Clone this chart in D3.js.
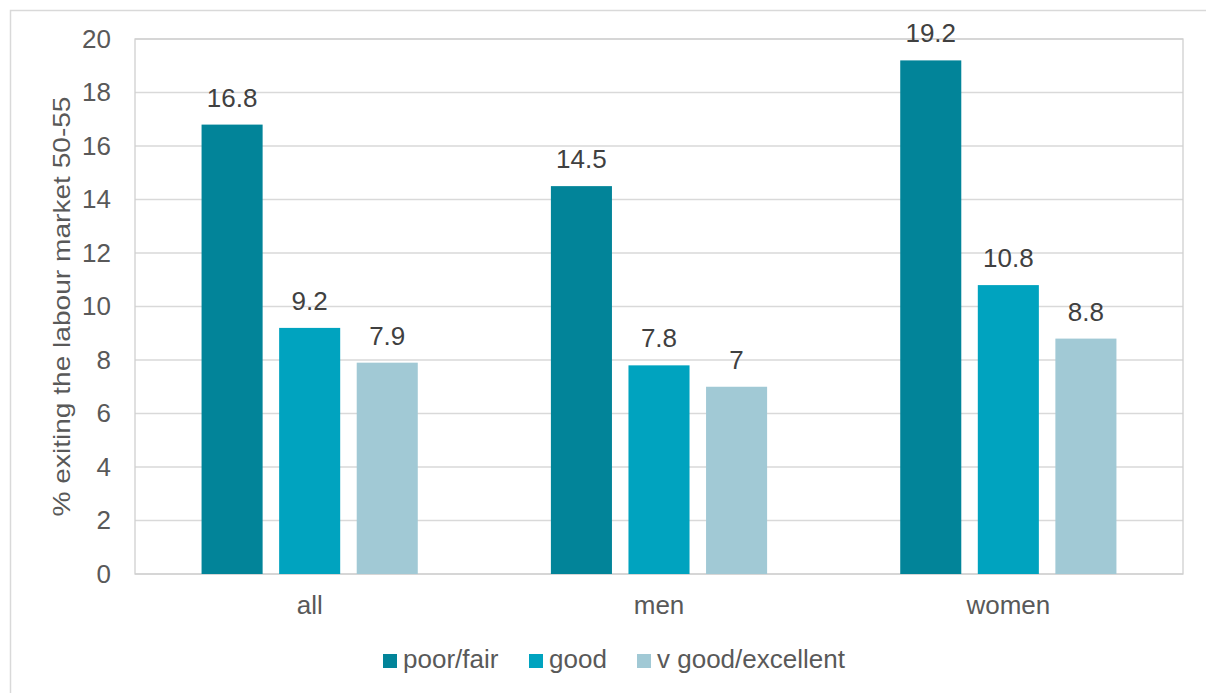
<!DOCTYPE html>
<html lang="en">
<head>
<meta charset="UTF-8">
<title>Exiting the labour market 50-55 by health</title>
<style>
  body { margin: 0; background: #fff; }
  svg text { font-family: "Liberation Sans", Arial, sans-serif; }
</style>
</head>
<body>
<div id="chart"></div>
<script src="https://d3js.org/d3.v7.min.js"></script>
<script>
const categories = ["all", "men", "women"];
const seriesNames = ["poor/fair", "good", "v good/excellent"];
const poorFair = [16.8, 14.5, 19.2];
const good = [9.2, 7.8, 10.8];
const vGoodExcellent = [7.9, 7, 8.8];
const yTicks = [0, 2, 4, 6, 8, 10, 12, 14, 16, 18, 20];
const colors = ["#028499", "#00A3BF", "#A1C9D5"];

const width = 1206, height = 693;
const margin = { top: 39, right: 23, bottom: 119, left: 135 };
const series = [poorFair, good, vGoodExcellent];
const fontSize = 26;

const svg = d3.select("#chart").append("svg")
  .attr("width", width)
  .attr("height", height);

// outer frame
svg.append("rect")
  .attr("x", 10.5).attr("y", 10.5)
  .attr("width", width + 20).attr("height", height + 20)
  .attr("fill", "none").attr("stroke", "#d9d9d9").attr("stroke-width", 1.5);

const x0 = d3.scaleBand()
  .domain(categories)
  .range([margin.left, width - margin.right]);

const x1 = d3.scaleBand()
  .domain(seriesNames)
  .range([0, x0.bandwidth()])
  .paddingInner(0.213)
  .paddingOuter(0.858);

const y = d3.scaleLinear()
  .domain([0, 20])
  .range([height - margin.bottom, margin.top]);

const plotW = width - margin.left - margin.right;

// gridlines
svg.append("g")
  .selectAll("line")
  .data(yTicks)
  .join("line")
  .attr("x1", margin.left).attr("x2", width - margin.right)
  .attr("y1", d => y(d)).attr("y2", d => y(d))
  .attr("stroke", "#d9d9d9").attr("stroke-width", 1.3);

// plot border
svg.append("rect")
  .attr("x", margin.left).attr("y", y(20))
  .attr("width", plotW).attr("height", y(0) - y(20))
  .attr("fill", "none").attr("stroke", "#d0d0d0").attr("stroke-width", 1.3);

// bars
const groups = svg.append("g")
  .selectAll("g")
  .data(categories)
  .join("g")
  .attr("transform", d => `translate(${x0(d)},0)`);

const cells = (c, ci) => seriesNames.map((s, si) => ({ s, si, v: series[si][ci] }));

groups.selectAll("rect")
  .data(cells)
  .join("rect")
  .attr("x", d => x1(d.s))
  .attr("width", x1.bandwidth())
  .attr("y", d => y(d.v))
  .attr("height", d => y(0) - y(d.v))
  .attr("fill", d => colors[d.si]);

groups.selectAll("text.val")
  .data(cells)
  .join("text")
  .attr("class", "val")
  .attr("x", d => x1(d.s) + x1.bandwidth() / 2)
  .attr("y", d => y(d.v) - 18)
  .attr("text-anchor", "middle")
  .attr("font-size", fontSize)
  .attr("fill", "#404040")
  .text(d => d.v);

// y axis labels
const yAxis = d3.axisLeft(y).tickValues(yTicks).tickSize(0).tickPadding(24);
svg.append("g")
  .attr("transform", `translate(${margin.left},0)`)
  .call(yAxis)
  .call(g => g.select(".domain").remove())
  .call(g => g.selectAll("text")
    .attr("font-size", fontSize)
    .attr("fill", "#595959")
    .attr("font-family", "Liberation Sans, Arial, sans-serif"));

// x axis labels
const xAxis = d3.axisBottom(x0).tickSize(0).tickPadding(22);
svg.append("g")
  .attr("transform", `translate(0,${y(0)})`)
  .call(xAxis)
  .call(g => g.select(".domain").remove())
  .call(g => g.selectAll("text")
    .attr("font-size", fontSize)
    .attr("fill", "#595959")
    .attr("font-family", "Liberation Sans, Arial, sans-serif"));

// y axis title
svg.append("text")
  .attr("transform", `translate(70,${(y(0) + y(20)) / 2}) rotate(-90)`)
  .attr("text-anchor", "middle")
  .attr("font-size", 24)
  .attr("textLength", 420)
  .attr("lengthAdjust", "spacingAndGlyphs")
  .attr("fill", "#595959")
  .text("% exiting the labour market 50-55");

// legend
const legendX = [383, 529, 637];
const legend = svg.append("g")
  .selectAll("g")
  .data(seriesNames)
  .join("g")
  .attr("transform", (d, i) => `translate(${legendX[i]},654)`);

legend.append("rect")
  .attr("width", 14).attr("height", 14)
  .attr("fill", (d, i) => colors[i]);

legend.append("text")
  .attr("x", 20).attr("y", 14)
  .attr("font-size", fontSize)
  .attr("fill", "#595959")
  .text(d => d);
</script>
</body>
</html>
